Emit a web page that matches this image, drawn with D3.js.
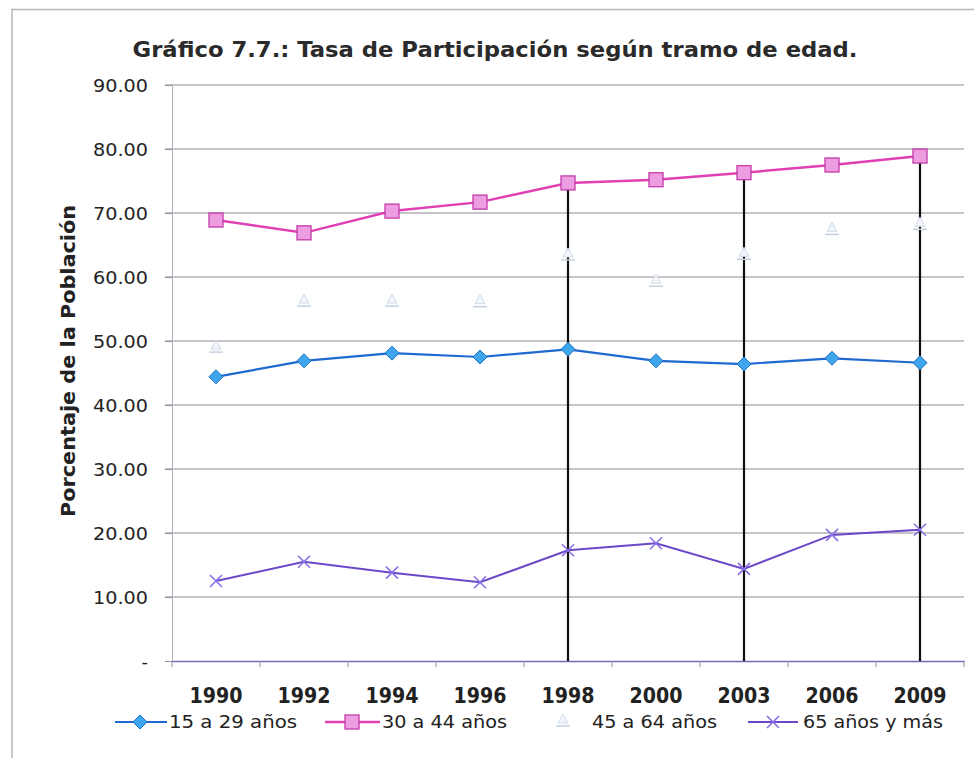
<!DOCTYPE html>
<html><head><meta charset="utf-8">
<script src="https://cdn.jsdelivr.net/npm/d3@7/dist/d3.min.js"></script>
<style>body{margin:0;background:#fff}svg{display:block}</style>
</head><body>
<script>
const years = ["1990","1992","1994","1996","1998","2000","2003","2006","2009"];
const s15_29 = [44.4, 46.9, 48.1, 47.5, 48.7, 46.9, 46.4, 47.3, 46.6];
const s30_44 = [68.9, 66.9, 70.3, 71.7, 74.7, 75.2, 76.3, 77.5, 78.9];
const s45_64 = [49.2, 56.4, 56.4, 56.3, 63.6, 59.5, 63.7, 67.6, 68.4];
const s65 = [12.5, 15.5, 13.8, 12.3, 17.3, 18.4, 14.4, 19.7, 20.5];
const yTicks = [0,10,20,30,40,50,60,70,80,90];
const dropYears = ["1998","2003","2009"];
const legendLabels = ["15 a 29 años","30 a 44 años","45 a 64 años","65 años y más"];
const titleText = "Gráfico 7.7.: Tasa de Participación según tramo de edad.";
const yTitle = "Porcentaje de la Población";

const W=974,H=758;
const svg=d3.select("body").append("svg").attr("width",W).attr("height",H);
const F="'DejaVu Sans', sans-serif";

// frame
svg.append("path").attr("d","M12,758 L12,9.5 L974,9.5").attr("fill","none").attr("stroke","#b8b8b8").attr("stroke-width",1.5);

const x=d3.scaleBand().domain(years).range([172,964]);
const y=d3.scaleLinear().domain([0,90]).range([661,85]);
const cx=d=>x(d)+x.bandwidth()/2;

// title
svg.append("text").attr("x",495).attr("y",57).attr("text-anchor","middle")
 .attr("font-family",F).attr("font-weight","bold").attr("font-size",22).attr("fill","#2a2a2a")
 .attr("textLength",725).attr("lengthAdjust","spacingAndGlyphs").text(titleText);

// gridlines
svg.append("g").selectAll("line").data(yTicks.filter(t=>t>0)).join("line")
 .attr("x1",165).attr("x2",964).attr("y1",d=>y(d)).attr("y2",d=>y(d))
 .attr("stroke","#8a8a96").attr("stroke-width",1.1);

// y axis
const yAxis=d3.axisLeft(y).tickValues(yTicks).tickSize(7).tickFormat(d=>d===0?"-":d3.format(".2f")(d));
const gy=svg.append("g").attr("transform","translate(172,0)").call(yAxis);
gy.select(".domain").attr("stroke","#b0b0b8").attr("stroke-width",1);
gy.selectAll(".tick line").attr("stroke","#909098");
gy.selectAll("text").attr("font-family",F).attr("font-size",18).attr("fill","#222").attr("x",-24).attr("dy","0.35em")
 .attr("textLength",d=>d===0?null:55).attr("lengthAdjust","spacingAndGlyphs");

// x axis line + ticks
const xAxis=d3.axisBottom(x).tickSize(0).tickFormat("");
const gx=svg.append("g").attr("transform","translate(0,661)").call(xAxis);
gx.select(".domain").attr("stroke","#7a6ab8").attr("stroke-width",1.3);
const bounds=years.map(d=>x(d)).concat([964]);
svg.append("g").selectAll("line").data(bounds).join("line")
 .attr("x1",d=>d).attr("x2",d=>d).attr("y1",661).attr("y2",667).attr("stroke","#909098");
svg.append("g").selectAll("text").data(years).join("text")
 .attr("x",d=>cx(d)).attr("y",703).attr("text-anchor","middle")
 .attr("font-family",F).attr("font-weight","bold").attr("font-size",22).attr("fill","#222")
 .attr("textLength",53).attr("lengthAdjust","spacingAndGlyphs").text(d=>d);

// y title
svg.append("text").attr("transform","translate(75,361) rotate(-90)").attr("text-anchor","middle")
 .attr("font-family",F).attr("font-weight","bold").attr("font-size",19).attr("fill","#222")
 .attr("textLength",312).attr("lengthAdjust","spacingAndGlyphs").text(yTitle);

// drop lines
svg.append("g").selectAll("line").data(dropYears).join("line")
 .attr("x1",d=>cx(d)).attr("x2",d=>cx(d))
 .attr("y1",d=>y(s30_44[years.indexOf(d)])).attr("y2",661)
 .attr("stroke","#111").attr("stroke-width",2.2);

const line=d3.line().x((d,i)=>cx(years[i])).y(d=>y(d));

// 45-64 markers only (faint)
function tri(g,px,py){
  g.append("path").attr("d",`M${px},${py-6} L${px+5},${py+3} L${px-5},${py+3}Z`)
   .attr("fill","#f2f6fa").attr("stroke","#d2dce8").attr("stroke-width",1);
  g.append("line").attr("x1",px-7).attr("x2",px+7).attr("y1",py+6).attr("y2",py+6).attr("stroke","#c2d0e0").attr("stroke-width",1.5);
}
const g45=svg.append("g");
s45_64.forEach((v,i)=>tri(g45,cx(years[i]),y(v)));

// 15-29
svg.append("path").datum(s15_29).attr("d",line).attr("fill","none").attr("stroke","#1e6ad0").attr("stroke-width",2.2);
function diamond(g,px,py){
  g.append("path").attr("d",`M${px},${py-7} L${px+7},${py} L${px},${py+7} L${px-7},${py}Z`)
   .attr("fill","#3fa6ee").attr("stroke","#1a72c8").attr("stroke-width",1);
}
const g15=svg.append("g");
s15_29.forEach((v,i)=>diamond(g15,cx(years[i]),y(v)));

// 30-44
svg.append("path").datum(s30_44).attr("d",line).attr("fill","none").attr("stroke","#e040b4").attr("stroke-width",2.5);
function square(g,px,py){
  g.append("rect").attr("x",px-7).attr("y",py-7).attr("width",14).attr("height",14)
   .attr("fill","#ec9ee0").attr("stroke","#c43aa8").attr("stroke-width",1.3);
}
const g30=svg.append("g");
s30_44.forEach((v,i)=>square(g30,cx(years[i]),y(v)));

// 65+
svg.append("path").datum(s65).attr("d",line).attr("fill","none").attr("stroke","#6a48c8").attr("stroke-width",2);
function cross(g,px,py){
  g.append("path").attr("d",`M${px-6},${py-6} L${px+6},${py+6} M${px-6},${py+6} L${px+6},${py-6}`)
   .attr("stroke","#8a70e8").attr("stroke-width",1.6);
}
const g65=svg.append("g");
s65.forEach((v,i)=>cross(g65,cx(years[i]),y(v)));

// legend
const LY=722;
const lg=svg.append("g");
lg.append("line").attr("x1",115).attr("x2",167).attr("y1",LY).attr("y2",LY).attr("stroke","#1e6ad0").attr("stroke-width",2.2);
diamond(lg,140,LY);
lg.append("line").attr("x1",325).attr("x2",380).attr("y1",LY).attr("y2",LY).attr("stroke","#e040b4").attr("stroke-width",2.5);
square(lg,352,LY);
tri(lg,563,LY-2);
lg.append("line").attr("x1",748).attr("x2",798).attr("y1",LY).attr("y2",LY).attr("stroke","#6a48c8").attr("stroke-width",2);
cross(lg,773,LY);
const lx=[169,382,592,803];
const lw=[128,125,125,140];
lg.selectAll("text").data(legendLabels).join("text")
 .attr("x",(d,i)=>lx[i]).attr("y",LY+6).attr("font-family",F).attr("font-size",18).attr("fill","#222")
 .attr("textLength",(d,i)=>lw[i]).attr("lengthAdjust","spacingAndGlyphs").text(d=>d);
</script>
</body></html>
